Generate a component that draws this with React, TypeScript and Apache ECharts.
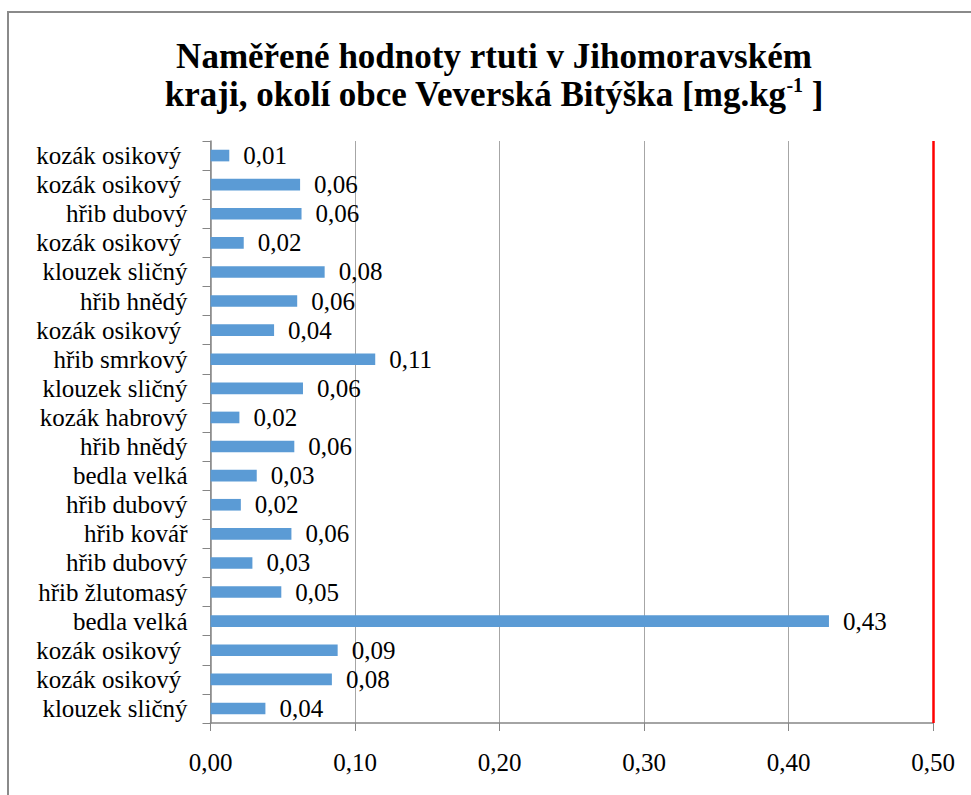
import React, { useEffect, useRef } from "react";
import * as echarts from "echarts";

const titleLine1 = "Naměřené hodnoty rtuti v Jihomoravském";
const titleLine2a = "kraji, okolí obce Veverská Bitýška [mg.kg";
const titleSup = "-1";
const titleLine2b = " ]";

const categories = [
  "kozák osikový ",
  "kozák osikový ",
  "hřib dubový",
  "kozák osikový ",
  "klouzek sličný",
  "hřib hnědý",
  "kozák osikový ",
  "hřib smrkový",
  "klouzek sličný",
  "kozák habrový",
  "hřib hnědý",
  "bedla velká",
  "hřib dubový",
  "hřib kovář",
  "hřib dubový",
  "hřib žlutomasý",
  "bedla velká",
  "kozák osikový ",
  "kozák osikový ",
  "klouzek sličný",
];

const mercuryValues = [
  0.013, 0.062, 0.063, 0.023, 0.079, 0.06, 0.044, 0.114, 0.064, 0.02,
  0.058, 0.032, 0.021, 0.056, 0.029, 0.049, 0.428, 0.088, 0.084, 0.038,
];

const limitValue = 0.5;
const axisMin = 0;
const axisMax = 0.5;
const axisInterval = 0.1;

const FONT = "Liberation Serif";
const fmt = (v: number) => v.toFixed(2).replace(".", ",");

export default function App() {
  const ref = useRef<HTMLDivElement>(null);
  useEffect(() => {
    if (!ref.current) return;
    const chart = echarts.init(ref.current, null, { renderer: "svg" });
    chart.setOption({
      animation: false,
      backgroundColor: "#ffffff",
      textStyle: { fontFamily: FONT },
      graphic: [
        {
          type: "rect",
          shape: { x: 8, y: 12, width: 1400, height: 1400 },
          style: { fill: "none", stroke: "#8a8a8a", lineWidth: 2 },
          silent: true,
          z: -10,
        },
        {
          type: "text",
          x: 494,
          y: 37,
          style: {
            text:
              titleLine1 +
              "\n" +
              titleLine2a +
              "{sup|" +
              titleSup +
              "}" +
              titleLine2b,
            align: "center",
            verticalAlign: "top",
            fontFamily: FONT,
            fontWeight: "bold",
            fontSize: 35,
            lineHeight: 38,
            fill: "#000000",
            rich: {
              sup: {
                fontFamily: FONT,
                fontWeight: "bold",
                fontSize: 20,
                lineHeight: 20,
                verticalAlign: "top",
                fill: "#000000",
              },
            },
          },
        },
      ],
      grid: { left: 210.5, right: 38, top: 141, bottom: 72 },
      xAxis: {
        type: "value",
        min: axisMin,
        max: axisMax,
        interval: axisInterval,
        axisLine: { show: true, lineStyle: { color: "#868686", width: 1.5 } },
        axisTick: { show: true, length: 8, lineStyle: { color: "#868686", width: 1 } },
        splitLine: { show: true, lineStyle: { color: "#a6a6a6", width: 1 } },
        axisLabel: {
          formatter: (v: number) => fmt(v),
          fontFamily: FONT,
          fontSize: 25,
          color: "#000000",
          margin: 27,
        },
      },
      yAxis: {
        type: "category",
        inverse: true,
        data: categories,
        axisLine: { show: true, lineStyle: { color: "#868686", width: 1.5 } },
        axisTick: { show: true, length: 8, lineStyle: { color: "#868686", width: 1 } },
        splitLine: { show: false },
        axisLabel: {
          fontFamily: FONT,
          fontSize: 25,
          color: "#000000",
          margin: 23,
          interval: 0,
        },
      },
      series: [
        {
          type: "bar",
          data: mercuryValues,
          barCategoryGap: "60%",
          itemStyle: { color: "#5b9bd5" },
          label: {
            show: true,
            position: "right",
            distance: 14,
            formatter: (p: any) => fmt(p.value),
            fontFamily: FONT,
            fontSize: 25,
            color: "#000000",
          },
          markLine: {
            silent: true,
            symbol: ["none", "none"],
            label: { show: false },
            lineStyle: { color: "#ff0000", width: 2.5, type: "solid" },
            data: [{ xAxis: limitValue }],
          },
        },
      ],
    });
    return () => chart.dispose();
  }, []);
  return (
    <div
      ref={ref}
      style={{ position: "absolute", left: 0, top: 0, width: 971, height: 795 }}
    />
  );
}
